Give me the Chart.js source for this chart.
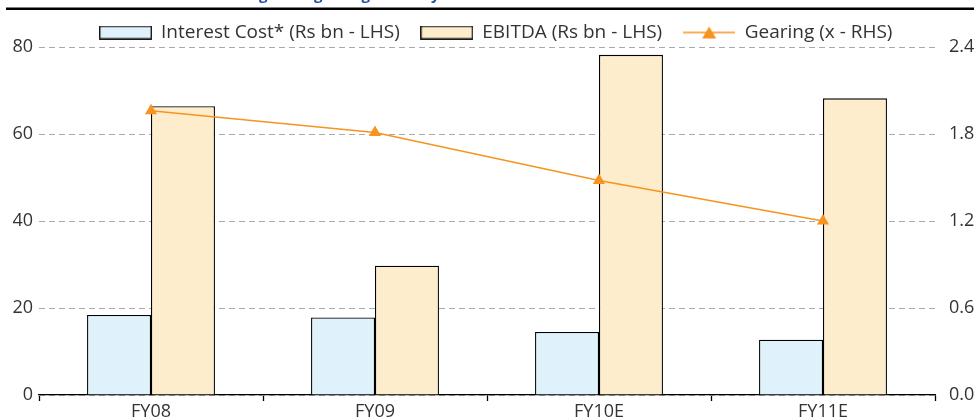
<!DOCTYPE html>
<html>
<head>
<meta charset="utf-8">
<script src="https://cdn.jsdelivr.net/npm/chart.js@4.4.1/dist/chart.umd.min.js"></script>
<style>
  html, body { margin: 0; padding: 0; background: #fff; }
  #wrap { width: 974px; height: 420px; }
</style>
</head>
<body>
<div id="wrap"><canvas id="grafico" width="974" height="420"></canvas></div>
<script>
// dados
const categorias = ["FY08", "FY09", "FY10E", "FY11E"];
const custoJuros = [18.4, 17.8, 14.5, 12.7];
const ebitda = [66.4, 29.7, 78.2, 68.2];
const gearing = [1.96, 1.81, 1.48, 1.20];
const ticksEsq = [0, 20, 40, 60, 80];
const ticksDir = [0, 0.6, 1.2, 1.8, 2.4];

const fonte = "'Open Sans', 'DejaVu Sans', sans-serif";
const laranja = "#f7931e";

// icones da legenda
function caixaLegenda(cor) {
    const c = document.createElement('canvas');
    c.width = 53; c.height = 14;
    const g = c.getContext('2d');
    g.fillStyle = cor; g.fillRect(0.5, 0.5, 52, 13);
    g.strokeStyle = "#000"; g.lineWidth = 1.3; g.strokeRect(0.75, 0.75, 51.5, 12.5);
    return c;
}
function linhaLegenda() {
    const c = document.createElement('canvas');
    c.width = 52; c.height = 14;
    const g = c.getContext('2d');
    g.strokeStyle = laranja; g.lineWidth = 1.5;
    g.beginPath(); g.moveTo(0, 7); g.lineTo(52, 7); g.stroke();
    g.fillStyle = laranja;
    g.beginPath(); g.moveTo(26, 1); g.lineTo(33, 13); g.lineTo(19, 13); g.closePath(); g.fill();
    return c;
}

// titulo cortado + linha preta no topo
const cabecalho = {
    id: 'cabecalho',
    beforeUpdate(chart) {
        // encolhe a legenda para o grafico subir e desloca o desenho dela
        const leg = chart.legend;
        if (leg && !leg._ajustada) {
            const origFit = leg.fit;
            leg.fit = function () { origFit.call(this); this.height -= 3; };
            const origDraw = leg.draw;
            leg.draw = function () {
                this.ctx.save();
                this.ctx.translate(9, 2);
                origDraw.call(this);
                this.ctx.restore();
            };
            leg._ajustada = true;
        }
    },
    afterDraw(chart) {
        const ctx = chart.ctx;
        ctx.save();
        ctx.fillStyle = "#000";
        ctx.fillRect(6, 7.5, 968, 2.5);
        ctx.font = "bold 15px " + fonte;
        ctx.fillStyle = "#1f4fa0";
        ctx.textBaseline = "alphabetic";
        const texto = "Declining debt: gearing to fall by FY11E";
        const antes = ctx.measureText("Declinin").width;
        ctx.fillText(texto, 259 - antes, 0);
        ctx.restore();
    }
};

new Chart(document.getElementById('grafico'), {
    data: {
        labels: categorias,
        datasets: [
            { type: 'bar', label: "Interest Cost* (Rs bn - LHS)", data: custoJuros, backgroundColor: "#dff1fb", borderColor: "#000", borderWidth: 1.3, yAxisID: 'y', order: 2, pointStyle: caixaLegenda("#dff1fb") },
            { type: 'bar', label: "EBITDA (Rs bn - LHS)", data: ebitda, backgroundColor: "#feedcd", borderColor: "#000", borderWidth: 1.3, yAxisID: 'y', order: 2, pointStyle: caixaLegenda("#feedcd") },
            { type: 'line', label: "Gearing (x - RHS)", data: gearing, borderColor: laranja, backgroundColor: laranja, borderWidth: 1.5, pointStyle: 'triangle', pointRadius: 7, pointBorderWidth: 0, yAxisID: 'y1', order: 1 }
        ]
    },
    options: {
        responsive: false,
        animation: false,
        categoryPercentage: 0.571,
        barPercentage: 1.0,
        layout: { padding: { top: 0, left: 0, right: 0, bottom: 0 } },
        plugins: {
            tooltip: { enabled: false },
            legend: {
                position: 'top',
                labels: {
                    usePointStyle: true,
                    pointStyleWidth: 52,
                    boxHeight: 14,
                    padding: 21,
                    color: "#333",
                    font: { family: fonte, size: 19 },
                    sort: (a, b) => a.datasetIndex - b.datasetIndex,
                    generateLabels(chart) {
                        const itens = Chart.defaults.plugins.legend.labels.generateLabels(chart);
                        itens.forEach(it => { if (it.datasetIndex === 2) it.pointStyle = linhaLegenda(); });
                        return itens;
                    }
                }
            }
        },
        scales: {
            x: {
                offset: true,
                grid: { offset: true, drawOnChartArea: false, drawTicks: true, tickLength: 6, color: "#000", tickWidth: 1.3 },
                border: { display: true, color: "#000", width: 1.3 },
                ticks: { color: "#333", font: { family: fonte, size: 18 }, padding: 0 },
                afterFit(s) { s.height = 25; }
            },
            y: {
                position: 'left',
                min: 0, max: 80,
                afterBuildTicks(s) { s.ticks = ticksEsq.map(v => ({ value: v })); },
                grid: { color: "#aaa", lineWidth: 1, drawTicks: false },
                border: { display: false, dash: [6, 4] },
                ticks: { color: "#333", font: { family: fonte, size: 18 }, padding: 6 },
                afterFit(s) { s.width = 39; }
            },
            y1: {
                position: 'right',
                min: 0, max: 2.4,
                afterBuildTicks(s) { s.ticks = ticksDir.map(v => ({ value: v })); },
                grid: { display: false },
                border: { display: false },
                ticks: { color: "#333", font: { family: fonte, size: 18 }, padding: 6, callback: v => v.toFixed(1) },
                afterFit(s) { s.width = 39; }
            }
        }
    },
    plugins: [cabecalho]
});
</script>
</body>
</html>
